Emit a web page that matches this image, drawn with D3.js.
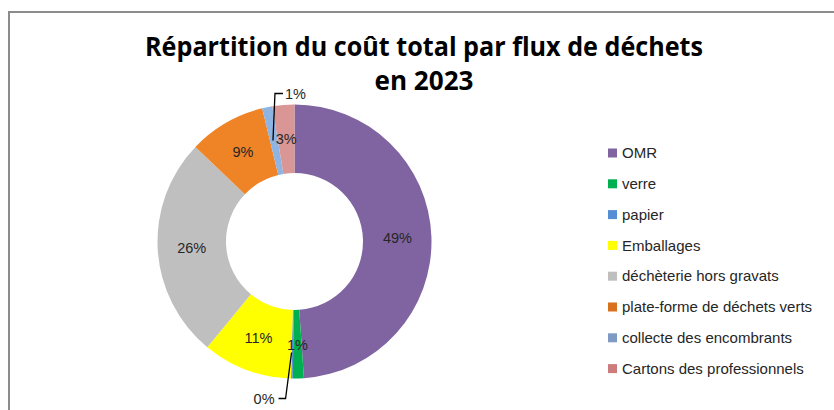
<!DOCTYPE html>
<html>
<head>
<meta charset="utf-8">
<script src="https://cdn.jsdelivr.net/npm/d3@7"></script>
<style>
  body { margin: 0; background: #fff; }
  svg { display: block; }
</style>
</head>
<body>
<script>
// Données : part du coût total par flux (en %)
var flux = ["OMR", "verre", "papier", "Emballages", "déchèterie hors gravats",
            "plate-forme de déchets verts", "collecte des encombrants", "Cartons des professionnels"];
var parts = [49.0, 1.3, 0.2, 10.6, 26.2, 9.1, 1.2, 2.6];
var couleurs = ["#8064A2", "#00B050", "#558ED5", "#FFFF00", "#BFBFBF", "#E9822A", "#8EB4E3", "#D99694"];
var couleursLegende = ["#8064A2", "#00B050", "#558ED5", "#FFFF00", "#BFBFBF", "#D9701E", "#7F9BC4", "#CC7C7C"];
var titre = ["Répartition du coût total par flux de déchets", "en 2023"];

var width = 834, height = 410;
var cx = 294.5, cy = 241.5, r_out = 137, r_in = 68.5, r_lab = 103;

var svg = d3.select("body").append("svg")
    .attr("width", width).attr("height", height);

// cadre du graphique (déborde à droite et en bas)
svg.append("rect")
  .attr("x", 9).attr("y", 12)
  .attr("width", width + 20).attr("height", height + 20)
  .style("fill", "#fff").style("stroke", "#8c8c8c").style("stroke-width", 2);

// dégradé de la plate-forme
var defs = svg.append("defs");
var grad = defs.append("radialGradient").attr("id", "g_orange")
  .attr("gradientUnits", "userSpaceOnUse")
  .attr("cx", cx).attr("cy", cy).attr("r", r_out);
grad.append("stop").attr("offset", "50%").attr("stop-color", "#C4601A");
grad.append("stop").attr("offset", "100%").attr("stop-color", "#EF8427");

// titre
svg.selectAll(".titre").data(titre).enter().append("text")
  .attr("class", "titre")
  .attr("x", 424).attr("y", function(d, i) { return 56 + i * 34; })
  .attr("text-anchor", "middle")
  .attr("textLength", function(d, i) { return i == 0 ? 558 : 99; })
  .attr("lengthAdjust", "spacingAndGlyphs")
  .style("font-family", "'Open Sans', sans-serif")
  .style("font-weight", "bold").style("font-size", "27px")
  .style("fill", "#000")
  .text(function(d) { return d; });

var pie = d3.pie().sort(null).value(function(d) { return d; });
var arc = d3.arc().innerRadius(r_in).outerRadius(r_out);
var arcLab = d3.arc().innerRadius(r_lab).outerRadius(r_lab);
var arcs = pie(parts);

var g = svg.append("g").attr("transform", "translate(" + cx + "," + cy + ")");

g.selectAll(".part").data(arcs).enter().append("path")
  .attr("class", "part")
  .attr("d", arc)
  .style("fill", function(d, i) { return i == 5 ? "url(#g_orange)" : couleurs[i]; })
  .style("stroke", "none");

// étiquettes
function pct(v) { return Math.round(v) + "%"; }
var deplace = { 2: "bas", 6: "haut" };   // étiquettes sorties avec ligne de rappel

arcs.forEach(function(d, i) {
  var c = arcLab.centroid(d);
  var pos = deplace[i];
  if (!pos) {
    g.append("text").attr("class", "etiq")
      .attr("x", c[0]).attr("y", c[1]).attr("dy", "0.35em")
      .attr("text-anchor", "middle")
      .text(pct(parts[i]));
  } else if (pos == "haut") {
    var ly = -(r_out + 11);
    g.append("path")
      .attr("d", "M" + (c[0] - 1) + "," + c[1] + "L" + (c[0] + 1) + "," + ly + "L" + (c[0] + 9) + "," + ly)
      .style("fill", "none").style("stroke", "#000").style("stroke-width", 1.3);
    g.append("text").attr("class", "etiq")
      .attr("x", c[0] + 11).attr("y", ly).attr("dy", "0.35em")
      .text(pct(parts[i]));
  } else {
    var ly = r_out + 20;
    g.append("path")
      .attr("d", "M" + (c[0] - 1) + "," + (c[1] + 8) + "L" + (c[0] - 7) + "," + ly + "L" + (c[0] - 14) + "," + ly)
      .style("fill", "none").style("stroke", "#000").style("stroke-width", 1.3);
    g.append("text").attr("class", "etiq")
      .attr("x", c[0] - 18).attr("y", ly).attr("dy", "0.35em")
      .attr("text-anchor", "end")
      .text(pct(parts[i]));
  }
});

g.selectAll(".etiq")
  .style("font-family", "'Liberation Sans', Arial, sans-serif")
  .style("font-size", "14.5px").style("fill", "#262626");

// légende
var leg = svg.append("g").attr("transform", "translate(608,153)");
var rows = leg.selectAll(".leg").data(flux).enter().append("g")
  .attr("class", "leg")
  .attr("transform", function(d, i) { return "translate(0," + (i * 30.8) + ")"; });
rows.append("rect")
  .attr("x", 0).attr("y", -4.5).attr("width", 9).attr("height", 9)
  .style("fill", function(d, i) { return couleursLegende[i]; });
rows.append("text")
  .attr("x", 14).attr("y", 0).attr("dy", "0.35em")
  .style("font-family", "'Liberation Sans', Arial, sans-serif")
  .style("font-size", "15px").style("fill", "#262626")
  .text(function(d) { return d; });
</script>
</body>
</html>
